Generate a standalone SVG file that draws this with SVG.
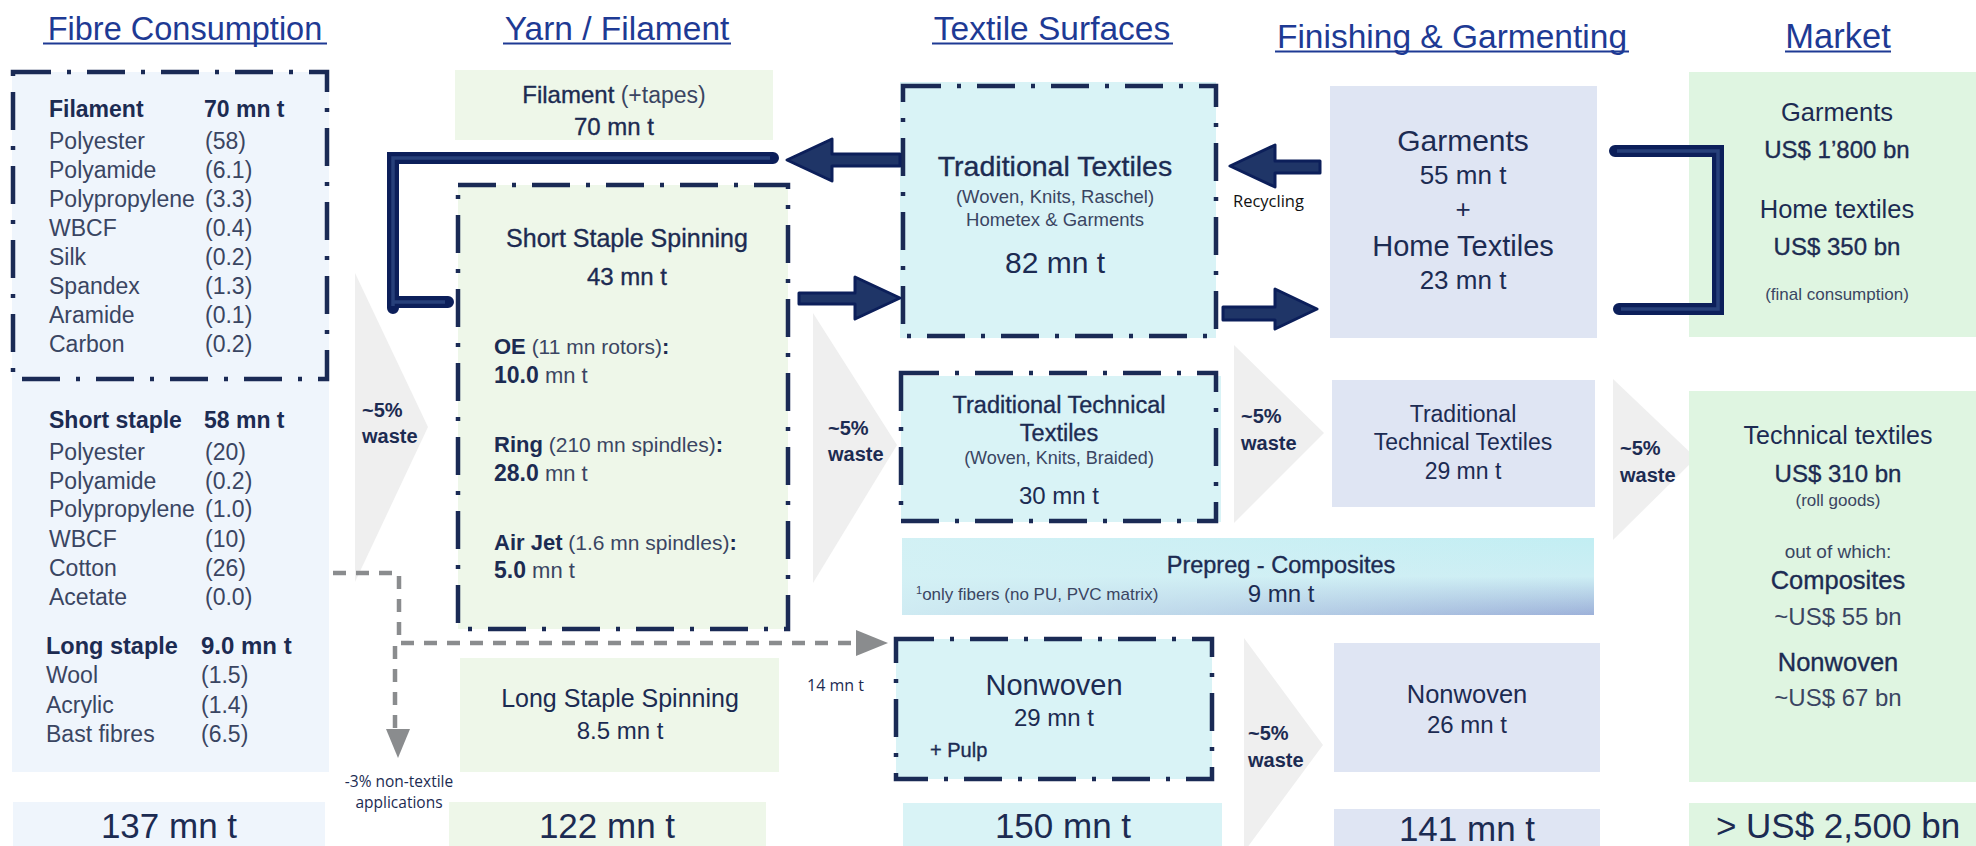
<svg xmlns="http://www.w3.org/2000/svg" width="1976" height="846" viewBox="0 0 1976 846">
  <defs>
    <style>
      text { font-family: 'Liberation Sans', Arial, sans-serif; fill: #1c2b52; }
      .hd { fill: #1e3a94; font-size: 33.5px; text-anchor: middle; }
      .ul { stroke: #1e3a94; stroke-width: 2; }
      .b { font-weight: bold; }
      .med { stroke: #1c2b52; stroke-width: 0.35; }
      .it { fill: #3a4562; font-size: 23px; }
      .lite { fill: #3a4562; }
      .c { text-anchor: middle; }
      .cal { font-family: 'Open Sans', 'Liberation Sans', sans-serif; }
      .ws { font-weight: bold; font-size: 20px; fill: #1c2b52; }
      .tot { font-size: 35px; text-anchor: middle; }
      .dd { fill: none; stroke: #1a2a55; stroke-width: 4.5; stroke-dasharray: 38 16 4 16; }
      .waste { fill: #efefef; }
      .pan { fill: #eff5fc; }
      .grn { fill: #eef7e9; }
      .cyn { fill: #d9f3f6; }
      .lav { fill: #dfe5f3; }
      .mkt { fill: #dff5e1; }
      .arr { fill: #1f3567; stroke: #0c1f5a; stroke-width: 3; stroke-linejoin: round; }
      .brk { fill: none; stroke: #0c1f5a; stroke-width: 12; stroke-linecap: round; stroke-linejoin: miter; }
      .brki { fill: none; stroke: #27407a; stroke-width: 3.5; }
      .dash { fill: none; stroke: #8a8c8e; stroke-width: 4.5; stroke-dasharray: 13 10; }
    </style>
    <linearGradient id="prepV" x1="0" y1="0" x2="0" y2="1">
      <stop offset="0" stop-color="#c2eef3"/>
      <stop offset="0.5" stop-color="#cdeef4"/>
      <stop offset="1" stop-color="#9db1d9"/>
    </linearGradient>
    <linearGradient id="prepH" x1="0" y1="0" x2="1" y2="0">
      <stop offset="0" stop-color="#d4f1f5" stop-opacity="0.9"/>
      <stop offset="0.45" stop-color="#d4f1f5" stop-opacity="0.55"/>
      <stop offset="1" stop-color="#d4f1f5" stop-opacity="0"/>
    </linearGradient>
  </defs>

  <rect width="1976" height="846" fill="#ffffff"/>

  <!-- column headings -->
  <g id="headings">
    <text class="hd" x="185" y="40" style="font-size:32.5px">Fibre Consumption</text>
    <line class="ul" x1="43" y1="43.5" x2="327" y2="43.5"/>
    <text class="hd" x="617" y="40">Yarn / Filament</text>
    <line class="ul" x1="503" y1="43.5" x2="731" y2="43.5"/>
    <text class="hd" x="1052" y="40">Textile Surfaces</text>
    <line class="ul" x1="932" y1="43.5" x2="1173" y2="43.5"/>
    <text class="hd" x="1452" y="48">Finishing &amp; Garmenting</text>
    <line class="ul" x1="1275" y1="51.5" x2="1629" y2="51.5"/>
    <text class="hd" x="1838" y="48" style="font-size:34.5px">Market</text>
    <line class="ul" x1="1785" y1="51.5" x2="1891" y2="51.5"/>
  </g>

  <!-- waste wedges -->
  <g id="waste-1">
    <polygon class="waste" points="355,273 428,427 355,582"/>
    <text class="ws" x="362" y="417">~5%</text>
    <text class="ws" x="362" y="443">waste</text>
  </g>
  <g id="waste-2">
    <polygon class="waste" points="813,313 897,445 813,583"/>
    <text class="ws" x="828" y="435">~5%</text>
    <text class="ws" x="828" y="461">waste</text>
  </g>
  <g id="waste-3">
    <polygon class="waste" points="1234,345 1324,433 1234,523"/>
    <text class="ws" x="1241" y="423">~5%</text>
    <text class="ws" x="1241" y="450">waste</text>
  </g>
  <g id="waste-4">
    <polygon class="waste" points="1244,638 1323,745 1244,852"/>
    <text class="ws" x="1248" y="740">~5%</text>
    <text class="ws" x="1248" y="767">waste</text>
  </g>
  <g id="waste-5">
    <polygon class="waste" points="1613,379 1696,458 1613,540"/>
    <text class="ws" x="1620" y="455">~5%</text>
    <text class="ws" x="1620" y="482">waste</text>
  </g>

  <!-- fibre consumption panel -->
  <g id="fibre-consumption">
    <rect class="pan" x="12" y="72" width="317" height="700"/>
    <rect class="dd" x="13" y="72" width="314" height="307"/>
    <text class="b" x="49" y="117" font-size="23">Filament</text>
    <text class="b" x="204" y="117" font-size="23">70 mn t</text>
    <text class="it" x="49" y="149">Polyester</text><text class="it" x="205" y="149">(58)</text>
    <text class="it" x="49" y="178">Polyamide</text><text class="it" x="205" y="178">(6.1)</text>
    <text class="it" x="49" y="207">Polypropylene</text><text class="it" x="205" y="207">(3.3)</text>
    <text class="it" x="49" y="236">WBCF</text><text class="it" x="205" y="236">(0.4)</text>
    <text class="it" x="49" y="265">Silk</text><text class="it" x="205" y="265">(0.2)</text>
    <text class="it" x="49" y="294">Spandex</text><text class="it" x="205" y="294">(1.3)</text>
    <text class="it" x="49" y="323">Aramide</text><text class="it" x="205" y="323">(0.1)</text>
    <text class="it" x="49" y="352">Carbon</text><text class="it" x="205" y="352">(0.2)</text>

    <text class="b" x="49" y="428" font-size="23">Short staple</text>
    <text class="b" x="204" y="428" font-size="23">58 mn t</text>
    <text class="it" x="49" y="460">Polyester</text><text class="it" x="205" y="460">(20)</text>
    <text class="it" x="49" y="489">Polyamide</text><text class="it" x="205" y="489">(0.2)</text>
    <text class="it" x="49" y="517">Polypropylene</text><text class="it" x="205" y="517">(1.0)</text>
    <text class="it" x="49" y="547">WBCF</text><text class="it" x="205" y="547">(10)</text>
    <text class="it" x="49" y="576">Cotton</text><text class="it" x="205" y="576">(26)</text>
    <text class="it" x="49" y="605">Acetate</text><text class="it" x="205" y="605">(0.0)</text>

    <text class="b" x="46" y="654" font-size="23.5">Long staple</text>
    <text class="b" x="201" y="654" font-size="24">9.0 mn t</text>
    <text class="it" x="46" y="683">Wool</text><text class="it" x="201" y="683">(1.5)</text>
    <text class="it" x="46" y="713">Acrylic</text><text class="it" x="201" y="713">(1.4)</text>
    <text class="it" x="46" y="742">Bast fibres</text><text class="it" x="201" y="742">(6.5)</text>
  </g>
  <g id="fibre-total">
    <rect class="pan" x="13" y="802" width="312" height="44"/>
    <text class="tot" x="169" y="838">137 mn t</text>
  </g>

  <!-- yarn / filament -->
  <g id="filament">
    <rect class="grn" x="455" y="70" width="318" height="70"/>
    <text class="c" x="614" y="103" font-size="24"><tspan class="med">Filament</tspan><tspan class="lite" font-size="23"> (+tapes)</tspan></text>
    <text class="c med" x="614" y="135" font-size="24">70 mn t</text>
  </g>
  <g id="short-staple-spinning">
    <rect class="grn" x="458" y="185" width="330" height="444"/>
    <rect class="dd" x="458" y="185" width="330" height="444"/>
    <text class="c med" x="627" y="247" font-size="25">Short Staple Spinning</text>
    <text class="c med" x="627" y="285" font-size="24">43 mn t</text>
    <text x="494" y="354" font-size="22"><tspan class="b">OE</tspan><tspan class="lite" font-size="21"> (11 mn rotors)</tspan><tspan class="b">:</tspan></text>
    <text x="494" y="383" font-size="23"><tspan class="b">10.0</tspan><tspan class="lite" font-size="22"> mn t</tspan></text>
    <text x="494" y="452" font-size="22"><tspan class="b">Ring</tspan><tspan class="lite" font-size="21"> (210 mn spindles)</tspan><tspan class="b">:</tspan></text>
    <text x="494" y="481" font-size="23"><tspan class="b">28.0</tspan><tspan class="lite" font-size="22"> mn t</tspan></text>
    <text x="494" y="550" font-size="22"><tspan class="b">Air Jet</tspan><tspan class="lite" font-size="21"> (1.6 mn spindles)</tspan><tspan class="b">:</tspan></text>
    <text x="494" y="578" font-size="23"><tspan class="b">5.0</tspan><tspan class="lite" font-size="22"> mn t</tspan></text>
  </g>
  <g id="long-staple-spinning">
    <rect class="grn" x="460" y="658" width="319" height="114"/>
    <text class="c" x="620" y="707" font-size="25">Long Staple Spinning</text>
    <text class="c" x="620" y="739" font-size="24">8.5 mn t</text>
  </g>
  <g id="yarn-total">
    <rect class="grn" x="449" y="802" width="317" height="44"/>
    <text class="tot" x="607" y="838">122 mn t</text>
  </g>

  <!-- textile surfaces -->
  <g id="traditional-textiles">
    <rect class="cyn" x="900" y="82" width="316" height="256"/>
    <rect class="dd" x="903" y="86" width="313" height="250"/>
    <text class="c med" x="1055" y="176" font-size="28.5">Traditional Textiles</text>
    <text class="c lite" x="1055" y="203" font-size="18.5">(Woven, Knits, Raschel)</text>
    <text class="c lite" x="1055" y="226" font-size="18.5">Hometex &amp; Garments</text>
    <text class="c" x="1055" y="273" font-size="30">82 mn t</text>
  </g>
  <g id="traditional-technical-textiles">
    <rect class="cyn" x="901" y="376" width="320" height="146"/>
    <rect class="dd" x="901" y="373" width="315" height="148"/>
    <text class="c med" x="1059" y="413" font-size="23.5">Traditional Technical</text>
    <text class="c med" x="1059" y="441" font-size="23.5">Textiles</text>
    <text class="c lite" x="1059" y="464" font-size="18">(Woven, Knits, Braided)</text>
    <text class="c" x="1059" y="504" font-size="24">30 mn t</text>
  </g>
  <g id="prepreg-composites">
    <rect x="902" y="538" width="692" height="77" fill="url(#prepV)"/>
    <rect x="902" y="538" width="692" height="77" fill="url(#prepH)"/>
    <text class="c med" x="1281" y="573" font-size="23.5">Prepreg - Composites</text>
    <text class="c" x="1281" y="602" font-size="24">9 mn t</text>
    <text class="lite" x="916" y="600" font-size="17"><tspan font-size="11" dy="-6">1</tspan><tspan dy="6">only fibers (no PU, PVC matrix)</tspan></text>
  </g>
  <g id="nonwoven">
    <rect class="cyn" x="896" y="639" width="316" height="140"/>
    <rect class="dd" x="896" y="639" width="316" height="140"/>
    <text class="c" x="1054" y="695" font-size="29">Nonwoven</text>
    <text class="c" x="1054" y="726" font-size="24">29 mn t</text>
    <text class="med" x="930" y="757" font-size="20">+ Pulp</text>
  </g>
  <g id="surfaces-total">
    <rect class="cyn" x="903" y="803" width="319" height="43"/>
    <text class="tot" x="1063" y="838">150 mn t</text>
  </g>

  <!-- finishing & garmenting -->
  <g id="garments-home">
    <rect class="lav" x="1330" y="86" width="267" height="252"/>
    <text class="c" x="1463" y="151" font-size="30">Garments</text>
    <text class="c" x="1463" y="184" font-size="26">55 mn t</text>
    <text class="c" x="1463" y="218" font-size="26">+</text>
    <text class="c" x="1463" y="256" font-size="29">Home Textiles</text>
    <text class="c" x="1463" y="289" font-size="26">23 mn t</text>
  </g>
  <g id="finished-technical">
    <rect class="lav" x="1332" y="380" width="263" height="127"/>
    <text class="c" x="1463" y="422" font-size="23">Traditional</text>
    <text class="c" x="1463" y="450" font-size="23">Technical Textiles</text>
    <text class="c" x="1463" y="479" font-size="23">29 mn t</text>
  </g>
  <g id="finished-nonwoven">
    <rect class="lav" x="1334" y="643" width="266" height="129"/>
    <text class="c" x="1467" y="703" font-size="25.5">Nonwoven</text>
    <text class="c" x="1467" y="733" font-size="24">26 mn t</text>
  </g>
  <g id="finishing-total">
    <rect class="lav" x="1334" y="809" width="266" height="37"/>
    <text class="tot" x="1467" y="841">141 mn t</text>
  </g>

  <!-- market -->
  <g id="market-consumer">
    <rect class="mkt" x="1689" y="72" width="287" height="265"/>
    <text class="c" x="1837" y="121" font-size="25.5">Garments</text>
    <text class="c med" x="1837" y="158" font-size="24">US$ 1’800 bn</text>
    <text class="c" x="1837" y="218" font-size="25.5">Home textiles</text>
    <text class="c med" x="1837" y="255" font-size="24">US$ 350 bn</text>
    <text class="c lite" x="1837" y="300" font-size="17">(final consumption)</text>
  </g>
  <g id="market-technical">
    <rect class="mkt" x="1689" y="391" width="287" height="391"/>
    <text class="c" x="1838" y="444" font-size="25">Technical textiles</text>
    <text class="c med" x="1838" y="482" font-size="24">US$ 310 bn</text>
    <text class="c lite" x="1838" y="506" font-size="17">(roll goods)</text>
    <text class="c lite" x="1838" y="558" font-size="19">out of which:</text>
    <text class="c med" x="1838" y="589" font-size="25.5">Composites</text>
    <text class="c lite" x="1838" y="625" font-size="24">~US$ 55 bn</text>
    <text class="c med" x="1838" y="671" font-size="25.5">Nonwoven</text>
    <text class="c lite" x="1838" y="706" font-size="24">~US$ 67 bn</text>
  </g>
  <g id="market-total">
    <rect class="mkt" x="1689" y="803" width="287" height="43"/>
    <text class="tot" x="1838" y="838" font-size="34">&gt; US$ 2,500 bn</text>
  </g>

  <!-- connectors -->
  <g id="connectors">
    <!-- filament return bracket -->
    <path class="brk" d="M773,158 H393 V308 M393,302 H448"/>
    <path class="brki" d="M770,158 H393 V306 M393,302 H445"/>
    <!-- traditional textiles -> filament -->
    <path class="arr" d="M787,160 L832,139 L832,154 L900,154 L900,166 L832,166 L832,181 Z"/>
    <!-- short staple spinning -> traditional textiles -->
    <path class="arr" d="M799,293 L855,293 L855,277 L900,298 L855,319 L855,304 L799,304 Z"/>
    <!-- recycling: garments -> traditional textiles -->
    <path class="arr" d="M1230,166 L1275,145 L1275,161 L1320,161 L1320,173 L1275,173 L1275,187 Z"/>
    <text class="cal" x="1233" y="207" font-size="16.5" style="fill:#111111">Recycling</text>
    <!-- traditional textiles -> garments -->
    <path class="arr" d="M1223,307 L1275,307 L1275,289 L1317,309 L1275,329 L1275,320 L1223,320 Z"/>
    <!-- garments -> market bracket -->
    <path class="brk" d="M1615,151 H1718 V309 H1619"/>
    <path class="brki" d="M1617,151 H1718 V309 H1621"/>
    <!-- dashed fibre flows -->
    <path class="dash" d="M333,573 H399 V643 H858"/>
    <polygon points="856,630 888,643 856,656" fill="#8a8c8e"/>
    <path class="dash" d="M395,646 V730"/>
    <polygon points="386,729 410,729 398,758" fill="#8a8c8e"/>
    <text class="cal" x="807" y="691" font-size="16">14 mn t</text>
    <text class="cal c" x="399" y="787" font-size="15.5">-3% non-textile</text>
    <text class="cal c" x="399" y="808" font-size="15.5">applications</text>
  </g>
</svg>
